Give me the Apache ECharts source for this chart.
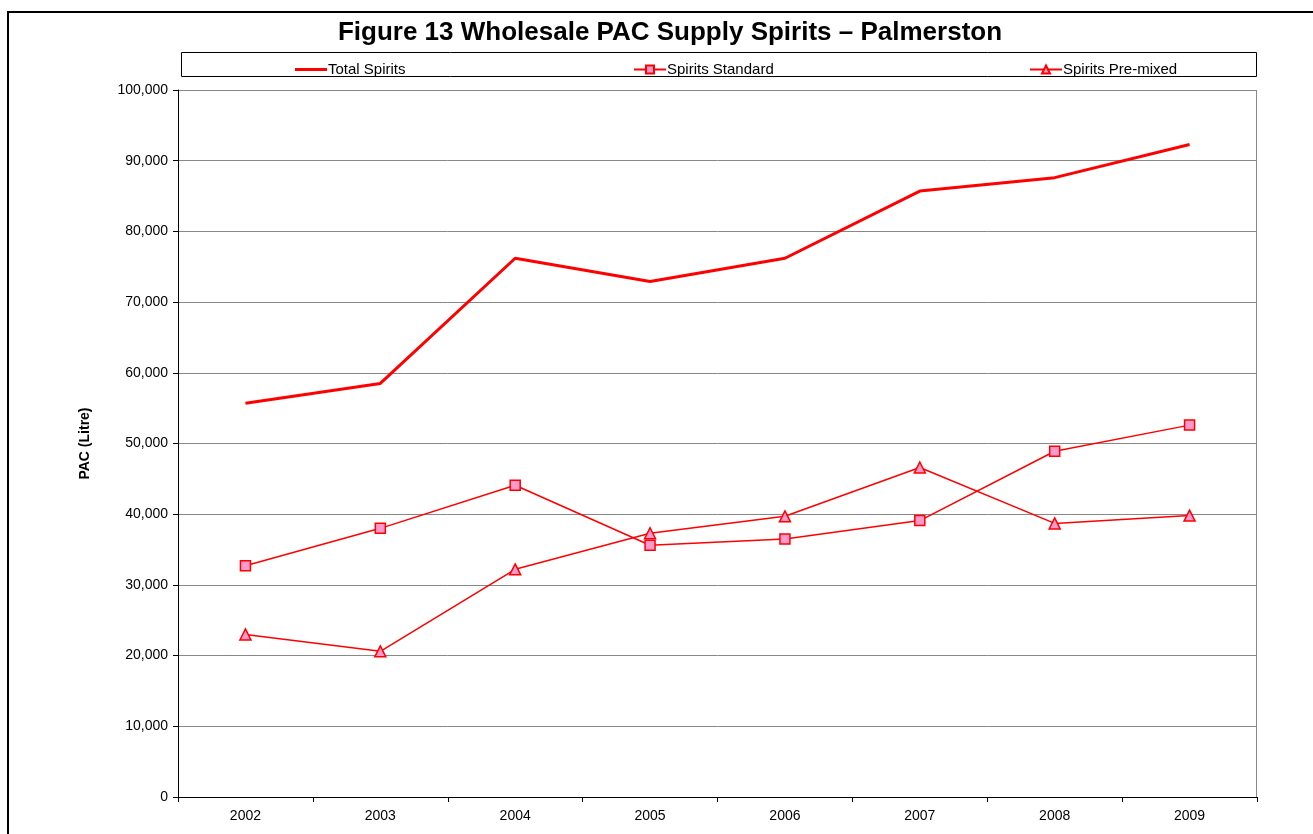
<!DOCTYPE html>
<html>
<head>
<meta charset="utf-8">
<script src="https://cdn.jsdelivr.net/npm/echarts@6/dist/echarts.min.js"></script>
<style>
  html, body { margin: 0; padding: 0; background: #fff; }
  #chart { width: 1313px; height: 834px; }
</style>
</head>
<body>
<div id="chart"></div>
<script>
// years on the x axis
const years = ['2002', '2003', '2004', '2005', '2006', '2007', '2008', '2009'];

// PAC litres
const totalSpirits = [55700, 58500, 76200, 72900, 76200, 85700, 87600, 92300];
const spiritsStandard = [32700, 38000, 44100, 35600, 36500, 39100, 48900, 52600];
const spiritsPremixed = [23000, 20600, 32200, 37300, 39700, 46600, 38700, 39800];

var chart = echarts.init(document.getElementById('chart'));

const font = 'Liberation Sans, Arial, sans-serif';

function legendAt(left, item, h) {
    return {
        left: left,
        top: 57,
        data: [item],
        itemWidth: 32,
        itemHeight: h,
        itemGap: 0,
        textStyle: { fontFamily: font, fontSize: 15, color: '#000', padding: [0, 0, 0, -4] }
    };
}

var option = {
    animation: false,
    backgroundColor: '#fff',
    title: {
        text: 'Figure 13 Wholesale PAC Supply Spirits \u2013 Palmerston',
        left: 665,
        textAlign: 'center',
        top: 15,
        textStyle: { fontFamily: font, fontSize: 26, fontWeight: 'bold', color: '#000' }
    },
    legend: [
        legendAt(290, { name: 'Total Spirits', icon: 'rect', itemStyle: { color: '#ff0000' } }, 3),
        legendAt(628, 'Spirits Standard', 10),
        legendAt(1024, 'Spirits Pre-mixed', 10)
    ],
    graphic: [
        {
            type: 'rect',
            shape: { x: 8, y: 12, width: 1330, height: 840 },
            style: { fill: 'none', stroke: '#000', lineWidth: 2 },
            silent: true
        },
        {
            type: 'rect',
            shape: { x: 181.5, y: 52.5, width: 1075, height: 24 },
            style: { fill: 'none', stroke: '#000', lineWidth: 1 },
            silent: true
        },
        {
            type: 'rect',
            shape: { x: 178.5, y: 90.5, width: 1078, height: 707 },
            style: { fill: 'none', stroke: '#888', lineWidth: 1 },
            silent: true,
            z: -1
        }
    ],
    grid: {
        left: 178,
        right: 56,
        top: 90,
        bottom: 37
    },
    xAxis: {
        type: 'category',
        data: years,
        boundaryGap: true,
        axisLine: { lineStyle: { color: '#000', width: 1 } },
        axisTick: { show: true, inside: false, length: 5, lineStyle: { color: '#000' } },
        axisLabel: { fontFamily: font, fontSize: 14, color: '#000', margin: 12 },
        splitLine: { show: false }
    },
    yAxis: {
        type: 'value',
        min: 0,
        max: 100000,
        interval: 10000,
        name: 'PAC (Litre)',
        nameLocation: 'middle',
        nameGap: 86,
        nameTextStyle: { fontFamily: font, fontSize: 14, fontWeight: 'bold', color: '#000' },
        axisLine: { show: true, lineStyle: { color: '#000', width: 1 } },
        axisTick: { show: true, length: 5, lineStyle: { color: '#000' } },
        axisLabel: {
            fontFamily: font, fontSize: 14, color: '#000', margin: 10,
            formatter: v => v.toLocaleString('en-US')
        },
        splitLine: { show: true, lineStyle: { color: '#888', width: 1 } }
    },
    series: [
        {
            name: 'Total Spirits',
            type: 'line',
            data: totalSpirits,
            symbol: 'none',
            lineStyle: { color: '#ff0000', width: 3 },
            itemStyle: { color: '#ff0000' }
        },
        {
            name: 'Spirits Standard',
            type: 'line',
            data: spiritsStandard,
            symbol: 'rect',
            symbolSize: 10,
            lineStyle: { color: '#ff0000', width: 1.5 },
            itemStyle: { color: '#ff99cc', borderColor: '#ff0000', borderWidth: 1.5 }
        },
        {
            name: 'Spirits Pre-mixed',
            type: 'line',
            data: spiritsPremixed,
            symbol: 'triangle',
            symbolSize: 11,
            lineStyle: { color: '#ff0000', width: 1.5 },
            itemStyle: { color: '#ff99cc', borderColor: '#ff0000', borderWidth: 1.5 }
        }
    ]
};

if (option && typeof option === 'object') {
    chart.setOption(option);
}

window.addEventListener('resize', chart.resize);
</script>
</body>
</html>
